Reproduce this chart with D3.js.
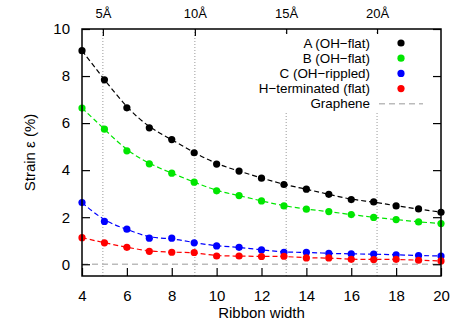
<!DOCTYPE html>
<html>
<head>
<meta charset="utf-8">
<script src="https://cdn.jsdelivr.net/npm/d3@7"></script>
<style>
    body { margin: 0; background: #fff; }
    text { font-family: "Liberation Sans", Arial, sans-serif; font-size: 15px; fill: #000; }
</style>
</head>
<body>
<div id="chart"></div>
<script>
// ribbon widths
var widths = [4, 5, 6, 7, 8, 9, 10, 11, 12, 13, 14, 15, 16, 17, 18, 19, 20];

// strain values (%)
var strainA = [9.08, 7.84, 6.65, 5.80, 5.30, 4.74, 4.26, 3.96, 3.66, 3.39, 3.19, 2.97, 2.75, 2.65, 2.48, 2.35, 2.21];
var strainB = [6.64, 5.74, 4.82, 4.27, 3.87, 3.49, 3.12, 2.92, 2.69, 2.48, 2.34, 2.24, 2.11, 1.99, 1.90, 1.80, 1.73];
var strainC = [2.62, 1.82, 1.49, 1.11, 1.11, 0.91, 0.78, 0.72, 0.61, 0.51, 0.51, 0.46, 0.44, 0.43, 0.40, 0.37, 0.35];
var strainH = [1.13, 0.91, 0.72, 0.55, 0.51, 0.50, 0.35, 0.35, 0.33, 0.34, 0.27, 0.27, 0.21, 0.20, 0.21, 0.17, 0.14];
var graphene = [0, 0];
var grapheneX = [4, 20];

var seriesNames = ["A (OH\u2212flat)", "B (OH\u2212flat)", "C (OH\u2212rippled)", "H\u2212terminated (flat)"];
var seriesColors = ["#000000", "#00e600", "#0000ff", "#ff0000"];

// top axis: widths in Angstrom
var angLabels = ["5\u00c5", "10\u00c5", "15\u00c5", "20\u00c5"];
var angWidths = [4.93, 9.03, 13.1, 17.15];

var xTicks = [4, 6, 8, 10, 12, 14, 16, 18, 20];
var yTicks = [0, 2, 4, 6, 8, 10];

var W = 463, H = 324;
var margin = {left: 82, right: 22, top: 29, bottom: 48};

var svg = d3.select("#chart").append("svg")
    .attr("width", W)
    .attr("height", H);

var x = d3.scaleLinear().domain([4, 20]).range([margin.left, W - margin.right]);
var y = d3.scaleLinear().domain([-0.5, 10]).range([H - margin.bottom, margin.top]);

// dotted guide lines at the Angstrom positions
svg.append("g").selectAll("line").data(angWidths).enter()
    .append("line")
    .attr("x1", function (d) { return x(d); })
    .attr("x2", function (d) { return x(d); })
    .attr("y1", y(10))
    .attr("y2", y(-0.5))
    .attr("stroke", "#999")
    .attr("stroke-width", 1)
    .attr("stroke-dasharray", "1,2");

// graphene reference
svg.append("line")
    .attr("x1", x(grapheneX[0])).attr("x2", x(grapheneX[1]))
    .attr("y1", y(graphene[0])).attr("y2", y(graphene[1]))
    .attr("stroke", "#bbb")
    .attr("stroke-width", 1.5)
    .attr("stroke-dasharray", "6,4");

var allSeries = [strainA, strainB, strainC, strainH];

var line = d3.line()
    .x(function (d, i) { return x(widths[i]); })
    .y(function (d) { return y(d); })
    .curve(d3.curveBasis);

allSeries.forEach(function (vals, k) {
    svg.append("path")
        .attr("d", line(vals))
        .attr("fill", "none")
        .attr("stroke", seriesColors[k])
        .attr("stroke-width", 1.2)
        .attr("stroke-dasharray", "5,3");
});

allSeries.forEach(function (vals, k) {
    svg.append("g").selectAll("circle").data(vals).enter()
        .append("circle")
        .attr("cx", function (d, i) { return x(widths[i]); })
        .attr("cy", function (d) { return y(d); })
        .attr("r", 3.6)
        .attr("fill", seriesColors[k]);
});

// axes, ticks inward
var xAxis = d3.axisBottom(x).tickValues(xTicks).tickSize(-8).tickPadding(14).tickFormat(d3.format("d"));
var yAxis = d3.axisLeft(y).tickValues(yTicks).tickSize(-8).tickPadding(12).tickFormat(d3.format("d"));
var yRight = d3.axisRight(y).tickValues(yTicks).tickSize(-8).tickFormat("");
var topAxis = d3.axisTop(x).tickValues(angWidths).tickSize(-7).tickPadding(11)
    .tickFormat(function (d, i) { return angLabels[i]; });

var gx = svg.append("g").attr("transform", "translate(0," + (H - margin.bottom) + ")").call(xAxis);
var gy = svg.append("g").attr("transform", "translate(" + margin.left + ",0)").call(yAxis);
var gr = svg.append("g").attr("transform", "translate(" + (W - margin.right) + ",0)").call(yRight);
var gt = svg.append("g").attr("transform", "translate(0," + margin.top + ")").call(topAxis);

[gx, gy, gr, gt].forEach(function (g) {
    g.select(".domain").remove();
    g.selectAll("line").attr("stroke", "#000").attr("stroke-width", 1.2);
    g.selectAll("text").style("font-size", "15px").attr("fill", "#000");
});
gt.selectAll("text").style("font-size", "13px");

// legend (opaque box hides guide lines)
var legX = 370, legY = 43, legStep = 15.2;
svg.append("rect")
    .attr("x", 243).attr("y", 34)
    .attr("width", 186).attr("height", 77)
    .attr("fill", "#fff");

seriesNames.forEach(function (name, k) {
    svg.append("text")
        .attr("x", legX).attr("y", legY + k * legStep)
        .attr("dy", "0.35em")
        .attr("text-anchor", "end")
        .style("font-size", "13.4px")
        .text(name);
    svg.append("circle")
        .attr("cx", 401).attr("cy", legY + k * legStep)
        .attr("r", 3.6)
        .attr("fill", seriesColors[k]);
});
svg.append("text")
    .attr("x", legX).attr("y", legY + 4 * legStep)
    .attr("dy", "0.35em")
    .attr("text-anchor", "end")
    .style("font-size", "13.4px")
    .text("Graphene");
svg.append("line")
    .attr("x1", 379).attr("x2", 423)
    .attr("y1", legY + 4 * legStep).attr("y2", legY + 4 * legStep)
    .attr("stroke", "#bbb")
    .attr("stroke-width", 1.5)
    .attr("stroke-dasharray", "6,4");

// frame
svg.append("rect")
    .attr("x", margin.left).attr("y", margin.top)
    .attr("width", W - margin.left - margin.right)
    .attr("height", H - margin.top - margin.bottom)
    .attr("fill", "none")
    .attr("stroke", "#000")
    .attr("stroke-width", 1.5);

// axis titles
svg.append("text")
    .attr("x", (margin.left + W - margin.right) / 2)
    .attr("y", 318)
    .attr("text-anchor", "middle")
    .text("Ribbon width");

svg.append("text")
    .attr("transform", "translate(35," + ((margin.top + H - margin.bottom) / 2) + ") rotate(-90)")
    .attr("text-anchor", "middle")
    .text("Strain \u03b5 (%)");
</script>
</body>
</html>
